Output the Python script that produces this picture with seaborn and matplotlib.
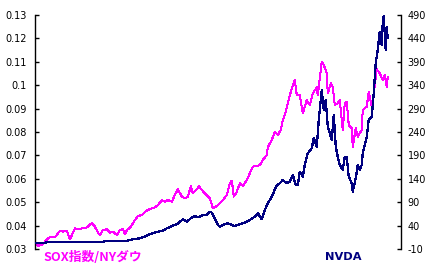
import matplotlib
matplotlib.use("Agg")
import matplotlib.pyplot as plt
import seaborn as sns
import pandas as pd

# ---- data (time index = trading-period position) ----
sox_t = [0, 3, 7, 10, 13, 17, 20, 23, 25, 28, 32, 35, 37, 40, 43, 47, 50, 53, 57, 60,
         63, 65, 68, 72, 75, 78, 82, 85, 88, 90, 92, 95, 97, 100, 103, 107, 110, 113, 117,
         120, 123, 127, 130, 133, 137, 140, 143, 147, 150, 153, 156, 158, 162, 164, 167,
         170, 173, 175, 178, 182, 185, 188, 192, 195, 197, 199, 202, 205, 208, 212, 215,
         218, 222, 225, 228, 232, 233, 237, 240, 243, 246, 248, 250, 253, 257, 260, 262,
         265, 268, 272, 275, 278, 282, 283, 287, 289, 292, 293, 296, 298, 300, 303, 305,
         308, 310, 312, 314, 317, 318, 321, 323, 327, 328, 332, 334, 337, 339, 342, 345,
         348, 350, 352, 353]
sox_ratio = [0.0320, 0.0314, 0.0318, 0.0331, 0.0346, 0.0353, 0.0350, 0.0367, 0.0378, 0.0374,
             0.0378, 0.0341, 0.0360, 0.0388, 0.0384, 0.0388, 0.0388, 0.0395, 0.0412, 0.0395,
             0.0370, 0.0360, 0.0381, 0.0384, 0.0370, 0.0374, 0.0360, 0.0381, 0.0385, 0.0364,
             0.0381, 0.0390, 0.0403, 0.0424, 0.0441, 0.0445, 0.0459, 0.0467, 0.0474, 0.0478,
             0.0488, 0.0509, 0.0502, 0.0509, 0.0502, 0.0531, 0.0555, 0.0524, 0.0517, 0.0524,
             0.0569, 0.0538, 0.0555, 0.0569, 0.0552, 0.0538, 0.0524, 0.0517, 0.0474, 0.0484,
             0.0495, 0.0509, 0.0531, 0.0581, 0.0592, 0.0524, 0.0545, 0.0581, 0.0569, 0.0595,
             0.0624, 0.0652, 0.0655, 0.0659, 0.0680, 0.0702, 0.0735, 0.0766, 0.0801, 0.0787,
             0.0809, 0.0851, 0.0873, 0.0923, 0.0987, 0.1022, 0.0958, 0.0958, 0.0880, 0.0937,
             0.0915, 0.0965, 0.0991, 0.0958, 0.1100, 0.1086, 0.1051, 0.0965, 0.1008, 0.0994,
             0.0915, 0.0923, 0.0937, 0.0809, 0.0923, 0.0930, 0.0830, 0.0816, 0.0737, 0.0816,
             0.0780, 0.0809, 0.0894, 0.0908, 0.0972, 0.0908, 0.0965, 0.1068, 0.1051, 0.1022,
             0.1044, 0.0994, 0.1036]

nvda_t = [0, 10, 12, 35, 68, 70, 92, 98, 105, 108, 113, 118, 123, 127, 132, 137, 142, 145,
          148, 152, 157, 160, 163, 168, 172, 175, 177, 180, 183, 185, 188, 193, 197, 200,
          205, 210, 215, 220, 223, 227, 230, 233, 237, 242, 245, 248, 252, 255, 258, 261,
          263, 265, 268, 270, 273, 277, 279, 282, 284, 287, 289, 291, 293, 295, 297, 299,
          301, 303, 305, 308, 310, 312, 314, 317, 318, 321, 323, 325, 327, 328, 332, 334,
          337, 339, 341, 343, 345, 347, 348, 349, 351, 352, 353]
nvda_price = [2.2, 2.2, 4.9, 4.9, 4.9, 7.7, 7.7, 10.7, 12.9, 15.0, 19.9, 23.5, 27.0, 28.5,
              34.2, 39.1, 42.8, 48.3, 53.5, 48.3, 57.7, 60.5, 57.7, 62.6, 62.6, 69.7, 67.6,
              55.6, 41.3, 37.6, 41.3, 44.9, 41.3, 39.1, 43.4, 46.2, 52.0, 59.0, 66.3, 53.5,
              73.3, 87.6, 101.7, 126.7, 130.4, 137.4, 130.4, 133.8, 148.1, 126.7, 126.7,
              155.2, 144.5, 169.5, 194.5, 205.2, 226.5, 208.6, 265.6, 329.7, 287.0, 308.4,
              251.3, 237.2, 222.9, 276.3, 208.6, 187.2, 169.5, 158.8, 187.2, 187.2, 144.5,
              130.4, 112.4, 141.1, 169.5, 158.8, 169.5, 194.5, 230.0, 265.6, 272.7, 322.7,
              386.8, 415.2, 454.3, 425.9, 472.3, 487.9, 415.0, 465.0, 440.0]

left_ticks = [0.03, 0.04, 0.05, 0.06, 0.07, 0.08, 0.09, 0.1, 0.11, 0.12, 0.13]
left_labels = ["0.03", "0.04", "0.05", "0.06", "0.07", "0.08", "0.09", "0.1", "0.11", "0.12", "0.13"]
right_ticks = [-10, 40, 90, 140, 190, 240, 290, 340, 390, 440, 490]
sox_label = "SOX指数/NYダウ"
nvda_label = "NVDA"

MAGENTA = "#FF00FF"
NAVY = "#000080"

sns.set_style("white")
plt.rcParams["font.family"] = ["Noto Sans CJK JP", "DejaVu Sans"]

df_sox = pd.DataFrame({"t": sox_t, "v": sox_ratio})
df_nv = pd.DataFrame({"t": nvda_t, "v": nvda_price})

fig = plt.figure(figsize=(4.33, 2.73), dpi=100)
ax = fig.add_axes([35 / 433, 1 - 249 / 273, (400.7 - 35) / 433, 234 / 273])
ax2 = ax.twinx()

sns.lineplot(data=df_sox, x="t", y="v", ax=ax, color=MAGENTA, linewidth=0.75,
             antialiased=False, estimator=None)
sns.lineplot(data=df_nv, x="t", y="v", ax=ax2, color=NAVY, linewidth=0.9,
             antialiased=False, estimator=None)

ax.set_xlim(0, 366)
ax.set_ylim(0.03, 0.13)
ax2.set_ylim(-10, 490)

for a in (ax, ax2):
    a.set_xlabel("")
    a.set_ylabel("")
    a.set_facecolor("none")
    a.spines["top"].set_visible(False)
    a.spines["bottom"].set_visible(False)
    a.set_xticks([])
    a.grid(False)

ax.spines["right"].set_visible(False)
ax.spines["left"].set_color("black")
ax.spines["left"].set_linewidth(1.0)
ax2.spines["left"].set_visible(False)
ax2.spines["right"].set_color("black")
ax2.spines["right"].set_linewidth(1.0)

ax.set_yticks(left_ticks)
ax.set_yticklabels(left_labels)
ax2.set_yticks(right_ticks)
ax2.set_yticklabels([str(v) for v in right_ticks])

ax.tick_params(axis="y", direction="in", length=3, width=1, pad=6, labelsize=7,
               colors="black", left=True)
ax2.tick_params(axis="y", direction="in", length=3, width=1, pad=5, labelsize=7,
                colors="black", right=True)
for lab in ax.get_yticklabels() + ax2.get_yticklabels():
    lab.set_family("DejaVu Sans")

fig.text(43 / 433, 1 - 257 / 273, sox_label, color=MAGENTA, fontsize=9.2,
         fontweight="bold", ha="left", va="center")
fig.text(325 / 433, 1 - 257 / 273, nvda_label, color=NAVY, fontsize=8.2,
         fontweight="bold", ha="left", va="center", family="DejaVu Sans")

fig.savefig("out.png", dpi=100, facecolor="white")
